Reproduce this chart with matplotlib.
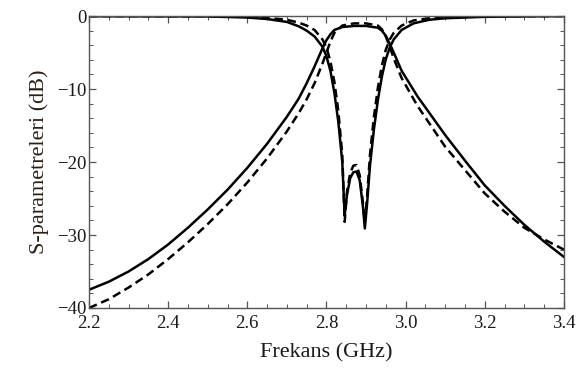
import matplotlib.pyplot as plt
from matplotlib.ticker import MultipleLocator, FormatStrFormatter

f_s21 = [2.20, 2.25, 2.30, 2.35, 2.40, 2.45, 2.50, 2.55, 2.60, 2.65, 2.70, 2.73,
         2.75, 2.77, 2.79, 2.80, 2.81, 2.82, 2.84, 2.87, 2.90, 2.93, 2.94, 2.95,
         2.96, 2.97, 2.99, 3.03, 3.10, 3.15, 3.20, 3.25, 3.30, 3.35, 3.40]
s21_solid = [-37.5, -36.4, -35.0, -33.3, -31.3, -29.0, -26.5, -23.8, -20.8, -17.5, -13.8, -11.3,
             -9.2, -6.9, -4.4, -3.3, -2.5, -1.9, -1.5, -1.35, -1.35, -1.6, -2.0, -2.7,
             -3.8, -5.0, -7.5, -11.0, -16.3, -19.8, -23.2, -26.0, -28.6, -30.9, -33.0]
s21_dashed = [-40.0, -38.8, -37.2, -35.4, -33.3, -31.0, -28.5, -25.8, -22.8, -19.5, -15.8, -13.3,
              -11.4, -9.2, -6.5, -5.0, -3.5, -2.3, -1.3, -1.0, -1.0, -1.3, -1.8, -2.8,
              -4.2, -5.8, -8.5, -12.3, -17.9, -21.1, -24.3, -26.8, -29.0, -30.6, -32.0]

# S11
f_s11 = [2.20, 2.50, 2.60, 2.65, 2.70, 2.73, 2.75, 2.77, 2.79, 2.80, 2.81, 2.82,
         2.83, 2.84, 2.846, 2.852, 2.86, 2.868, 2.876, 2.884, 2.892, 2.897, 2.903,
         2.91, 2.92, 2.93, 2.94, 2.95, 2.96, 2.97, 2.99, 3.02, 3.06, 3.10, 3.20, 3.40]
s11_solid = [-0.02, -0.05, -0.2, -0.4, -0.8, -1.4, -2.0, -2.8, -4.2, -5.5, -7.5, -10.5,
             -14.5, -20.0, -27.3, -24.5, -22.2, -21.4, -21.3, -22.5, -26.0, -29.1, -25.5,
             -20.5, -15.5, -11.5, -8.3, -5.9, -4.3, -3.2, -1.9, -1.0, -0.5, -0.3, -0.1, 0.0]
s11_dashed = [0.0, -0.02, -0.1, -0.25, -0.5, -0.9, -1.3, -1.9, -3.2, -4.3, -6.2, -9.0,
              -13.0, -19.0, -28.2, -24.0, -21.5, -20.5, -20.4, -21.8, -25.5, -28.3, -24.5,
              -19.0, -13.8, -9.8, -6.8, -4.6, -3.2, -2.3, -1.3, -0.6, -0.3, -0.15, 0.0, 0.0]

plt.rcParams['font.family'] = ['Liberation Serif', 'DejaVu Serif']

fig = plt.figure(figsize=(5.76, 3.74), dpi=100)
ax = fig.add_axes([0.1545, 0.1765, 0.8245, 0.7805])

ax.plot(f_s21, s21_solid, color='black', lw=1.8, solid_joinstyle='round')
ax.plot(f_s21, s21_dashed, color='black', lw=1.8, dashes=(3.4, 1.9))
ax.plot(f_s11, s11_solid, color='black', lw=1.8, solid_joinstyle='round')
ax.plot(f_s11, s11_dashed, color='black', lw=1.8, dashes=(3.4, 1.9))

ax.set_xlim(2.2, 3.4)
ax.set_ylim(-40, 0)
ax.xaxis.set_major_locator(MultipleLocator(0.2))
ax.xaxis.set_minor_locator(MultipleLocator(0.05))
ax.yaxis.set_major_locator(MultipleLocator(10))
ax.yaxis.set_minor_locator(MultipleLocator(2))
ax.xaxis.set_major_formatter(FormatStrFormatter('%.1f'))

for s in ax.spines.values():
    s.set_color('#555555')
    s.set_linewidth(1.0)

ax.tick_params(which='both', direction='in', top=True, right=True,
               colors='#555555', labelcolor='#1a1a1a', labelsize=13.5)
ax.tick_params(which='major', length=5, width=0.9)
ax.tick_params(which='minor', length=3, width=0.7)
ax.tick_params(axis='x', pad=5)
ax.tick_params(axis='y', pad=1.5)

ax.set_xlabel('Frekans (GHz)', fontsize=16, color='#1a1a1a', labelpad=8)
ax.set_ylabel('S-parametreleri (dB)', fontsize=16, color='#2a1f14', labelpad=6)

fig.savefig('out.png', dpi=100)
